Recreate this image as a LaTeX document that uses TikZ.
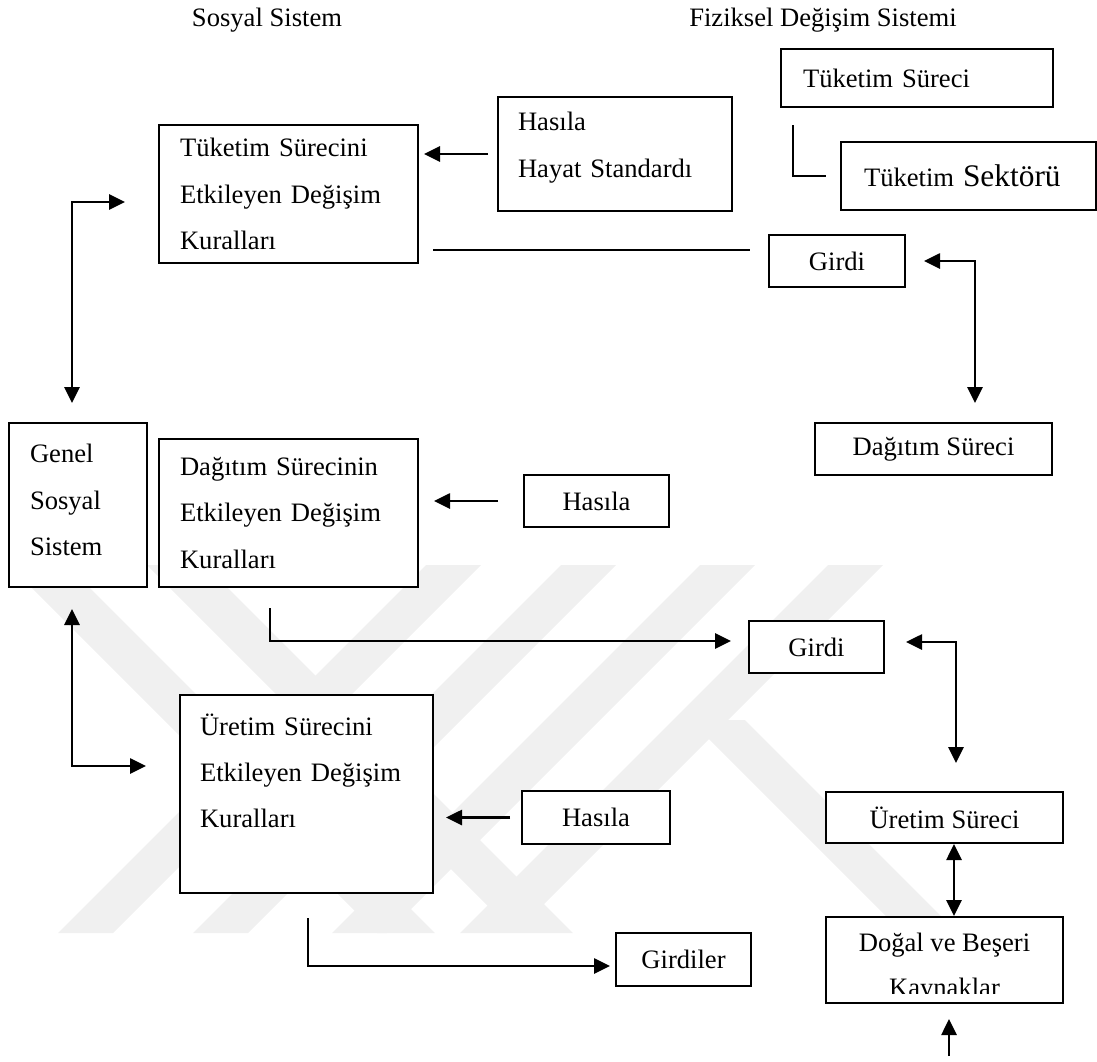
\documentclass[tikz,border=0pt]{standalone}
\usepackage{fontspec}
\setmainfont{Liberation Serif}
\usetikzlibrary{arrows.meta}

\begin{document}
\begin{tikzpicture}[x=0.5pt,y=-0.5pt,
 >={Triangle[length=8pt,width=7.5pt]},
 kutu/.style ={rectangle, draw=black, line width=1pt, fill=white, inner sep=0pt, font=\rmfamily\fontsize{13.3}{23.2}\selectfont},
 solkutu/.style ={kutu, align=left},
 ortakutu/.style ={kutu, align=center},
 baslik/.style ={font=\rmfamily\fontsize{13.3}{16}\selectfont},
 ok/.style ={draw, line width=1.35pt},
 cizgi/.style ={draw, line width=0.8pt},
 filigran/.style ={fill=black!6, draw=none}]

\useasboundingbox (0,0) rectangle (1097,1061);

% filigran
\foreach \b in {58,193,332,460}
  \fill[filigran] (\b,933) -- (\b+55,933) -- (\b+423,565) -- (\b+368,565) -- cycle;
\foreach \b in {9,147}
  \fill[filigran] (\b,565) -- (\b+58,565) -- (\b+426,933) -- (\b+368,933) -- cycle;
\fill[filigran] (690,720) -- (745,720) -- (958,933) -- (903,933) -- cycle;

\draw (267,20) node[baslik] (sosyal) {Sosyal Sistem};
\draw (823,20) node[baslik] (fiziksel) {Fiziksel Değişim Sistemi};

\draw (917,78) node[solkutu, text width=114pt, inner xsep=11pt, minimum height=29pt] (tuksur) {Tüketim Süreci};
\draw (968.5,176) node[solkutu, text width=104.5pt, inner xsep=11.5pt, minimum height=34pt] (tuksek) {Tüketim {\rmfamily\fontsize{15.7}{18}\selectfont Sektörü}};
\draw (615,154) node[solkutu, text width=97pt, inner xsep=10pt, minimum height=57pt] (hayat) {Hasıla\\Hayat Standardı\\[-14pt]\mbox{}};
\draw (288.5,194) node[solkutu, text width=108.5pt, inner xsep=10.5pt, minimum height=69pt] (tukkural) {Tüketim Sürecini\\Etkileyen Değişim\\Kuralları};
\draw (837,261) node[ortakutu, minimum width=68pt, minimum height=26pt] (girdi1) {Girdi};
\draw (933.5,449) node[ortakutu, minimum width=118.5pt, minimum height=26pt] (dagsur) {Dağıtım Süreci};

\draw (78,505) node[solkutu, text width=48pt, inner xsep=10.5pt, minimum height=82pt] (genel) {Genel\\Sosyal\\Sistem\\[-18pt]\mbox{}};
\draw (288.5,513) node[solkutu, text width=108.5pt, inner xsep=10.5pt, minimum height=74pt] (dagkural) {Dağıtım Sürecinin\\Etkileyen Değişim\\Kuralları};
\draw (596.5,501) node[ortakutu, minimum width=72.5pt, minimum height=26pt] (hasila1) {Hasıla};
\draw (816.5,647) node[ortakutu, minimum width=67.5pt, minimum height=26pt] (girdi2) {Girdi};

\draw (306.5,794) node[solkutu, text width=106.5pt, inner xsep=10pt, minimum height=99pt] (urekural) {Üretim Sürecini\\Etkileyen Değişim\\Kuralları\\\mbox{}};
\draw (596,817.5) node[ortakutu, minimum width=74pt, minimum height=26.5pt] (hasila2) {Hasıla};
\draw (944.5,817.5) node[ortakutu, minimum width=118.5pt, minimum height=25.5pt] (uresur) {Üretim Süreci};
\draw (944.5,960) node[ortakutu, minimum width=118.5pt, minimum height=43pt] (dogal) {};
\draw (683.5,959.5) node[ortakutu, minimum width=67.5pt, minimum height=26.5pt] (girdiler) {Girdiler};

\begin{scope}
 \clip (dogal.north west) rectangle ([yshift=5.5pt]dogal.south east);
 \draw (944.5,967.5) node[align=center, font=\rmfamily\fontsize{13.3}{22.5}\selectfont] (dogalyazi) {Doğal ve Beşeri\\Kaynaklar};
\end{scope}

	\draw [cizgi] ([shift={(6.5pt,-8.5pt)}]tuksur.south west) |- ([xshift=-7pt]tuksek.west);
	\draw [ok, ->] ([xshift=-4.5pt]hayat.west) -- ([xshift=2.5pt]hayat.west -| tukkural.east);
	\coordinate (cizgibas) at ([shift={(7pt,7pt)}]tukkural.south east);
	\draw [cizgi] (cizgibas) -- ([xshift=-9pt]cizgibas -| girdi1.west);
	\draw [ok, <->] ([xshift=9pt]girdi1.east) -| ([shift={(20.75pt,9.5pt)}]dagsur.north);
	\draw [ok, <->] ([shift={(-16.5pt,-4pt)}]tukkural.west) -| ([shift={(-3pt,9.5pt)}]genel.north);

	\draw [ok, ->] ([xshift=-12.5pt]hasila1.west) -- ([xshift=7.5pt]hasila1.west -| dagkural.east);
	\draw [ok, ->] ([shift={(-9.25pt,-10pt)}]dagkural.south) |- ([shift={(-8.5pt,3pt)}]girdi2.west);
	\draw [ok, <->] ([shift={(10.5pt,2.5pt)}]girdi2.east) -| ([shift={(5.75pt,14pt)}]uresur.north);
	\draw [ok, <->] ([shift={(-3pt,-10.5pt)}]genel.south) |- ([shift={(-16.5pt,14pt)}]urekural.west);

	\draw [ok, ->] ([xshift=-5.5pt]hasila2.west) -- ([xshift=6pt]hasila2.west -| urekural.east);
	\draw [ok, <->] ([xshift=4.75pt]uresur.south) -- ([xshift=4.75pt]dogal.north);
	\coordinate (kaynak) at (949,1056);
	\draw [ok, ->] (kaynak) -- ([shift={(2.25pt,-7.5pt)}]dogal.south);
	\draw [ok, ->] ([shift={(0.75pt,-12pt)}]urekural.south) |- ([shift={(-2.5pt,-3.25pt)}]girdiler.west);

\end{tikzpicture}
\end{document}
